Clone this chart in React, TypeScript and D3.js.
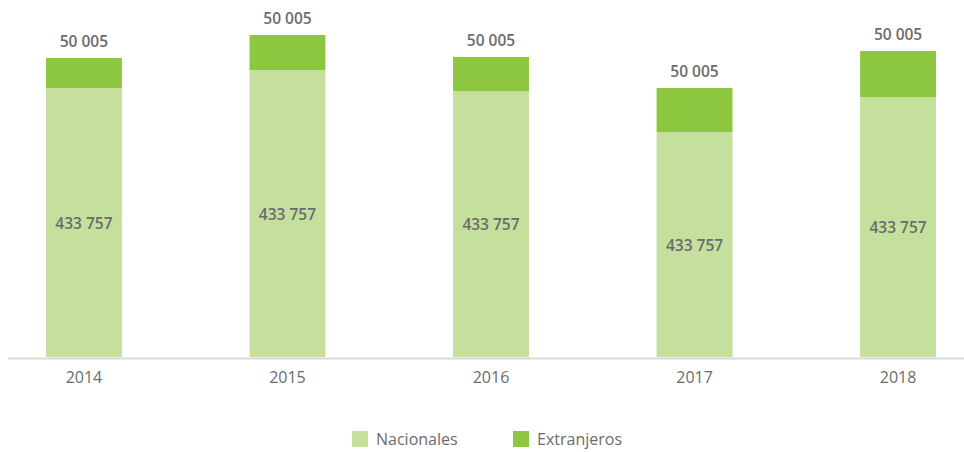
import React, { useRef, useEffect } from 'react';
import * as d3 from 'd3';

// data (arbitrary units)
const years = ['2014', '2015', '2016', '2017', '2018'];
const nacionales = [269, 287, 266, 225, 260];
const extranjeros = [30, 35, 34, 44, 46];
const nacionalesLabels = ['433 757', '433 757', '433 757', '433 757', '433 757'];
const extranjerosLabels = ['50 005', '50 005', '50 005', '50 005', '50 005'];
const seriesNames = ['Nacionales', 'Extranjeros'];

const width = 964;
const height = 452;
const colors = ['#c5e09d', '#8dc63f'];
const textColor = '#6b6b6e';
const font = '"Open Sans", Lato, sans-serif';

const App = () => {
  const chartRef = useRef<SVGSVGElement>(null);

  useEffect(() => {
    const root = d3.select(chartRef.current);
    root.selectAll('*').remove();
    const svg = root.attr('width', width).attr('height', height).style('font-family', font);

    const rows = years.map((y, i) => ({ year: y, Nacionales: nacionales[i], Extranjeros: extranjeros[i] }));
    const stacked = d3.stack<any>().keys(seriesNames)(rows);

    // scales
    const xScale = d3.scaleBand().domain(years).range([13, 969]).paddingInner(0.627).paddingOuter(0.162);
    const yScale = d3.scaleLinear().domain([0, 330]).range([357, 27]);

    // bars
    svg
      .append('g')
      .selectAll('g')
      .data(stacked)
      .enter()
      .append('g')
      .attr('fill', (d, i) => colors[i])
      .selectAll('rect')
      .data((d) => d)
      .enter()
      .append('rect')
      .attr('x', (d: any) => xScale(d.data.year)!)
      .attr('width', xScale.bandwidth())
      .attr('y', (d) => yScale(d[1]))
      .attr('height', (d) => yScale(d[0]) - yScale(d[1]));

    // axis line
    svg
      .append('line')
      .attr('x1', 8)
      .attr('x2', width)
      .attr('y1', 358.5)
      .attr('y2', 358.5)
      .attr('stroke', '#d9d9d9')
      .attr('stroke-width', 2);

    // year labels
    svg
      .append('g')
      .selectAll('text')
      .data(years)
      .enter()
      .append('text')
      .attr('x', (d) => xScale(d)! + xScale.bandwidth() / 2)
      .attr('y', 383)
      .attr('text-anchor', 'middle')
      .attr('fill', textColor)
      .attr('font-size', 16)
      .text((d) => d);

    // values inside light segment
    svg
      .append('g')
      .selectAll('text')
      .data(stacked[0])
      .enter()
      .append('text')
      .attr('x', (d: any) => xScale(d.data.year)! + xScale.bandwidth() / 2)
      .attr('y', (d) => (yScale(d[0]) + yScale(d[1])) / 2 + 6)
      .attr('text-anchor', 'middle')
      .attr('fill', textColor)
      .attr('font-size', 15.5)
      .attr('font-weight', 600)
      .text((d, i) => nacionalesLabels[i]);

    // totals above
    svg
      .append('g')
      .selectAll('text')
      .data(stacked[1])
      .enter()
      .append('text')
      .attr('x', (d: any) => xScale(d.data.year)! + xScale.bandwidth() / 2)
      .attr('y', (d) => yScale(d[1]) - 11)
      .attr('text-anchor', 'middle')
      .attr('fill', textColor)
      .attr('font-size', 15.5)
      .attr('font-weight', 600)
      .text((d, i) => extranjerosLabels[i]);

    // legend
    const legendX = [352, 513];
    const legend = svg
      .append('g')
      .selectAll('g')
      .data(seriesNames)
      .enter()
      .append('g')
      .attr('transform', (d, i) => `translate(${legendX[i]}, 431)`);
    legend.append('rect').attr('width', 16).attr('height', 16).attr('fill', (d, i) => colors[i]);
    legend
      .append('text')
      .attr('x', 24)
      .attr('y', 14)
      .attr('fill', textColor)
      .attr('font-size', 16)
      .text((d) => d);
  }, []);

  return <svg ref={chartRef} style={{ position: 'absolute', left: 0, top: 0 }}></svg>;
};

export default App;
